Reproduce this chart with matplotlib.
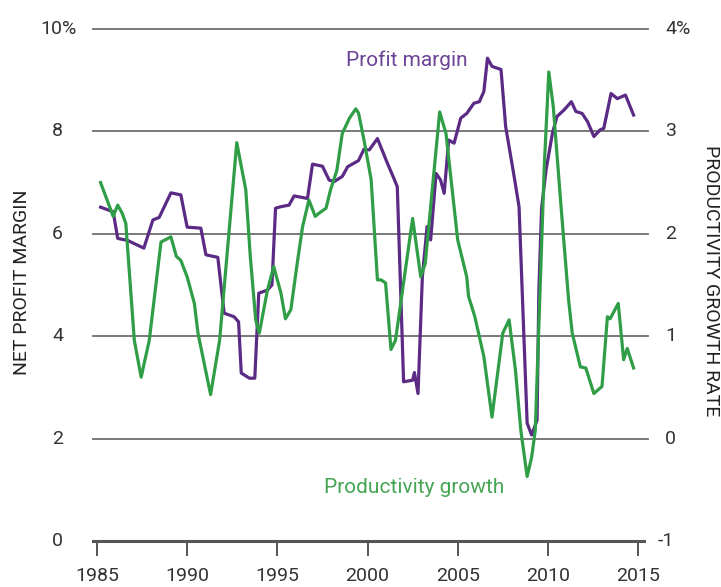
import matplotlib
matplotlib.use("Agg")
import matplotlib.pyplot as plt

plt.rcParams['font.family'] = ['Roboto', 'DejaVu Sans']

# net profit margin, % (left axis)
margin_years = [1985.2, 1985.9, 1986.15, 1986.7, 1987.6, 1988.1, 1988.45, 1989.1, 1989.65, 1990.0,
                1990.76, 1991.04, 1991.7, 1992.05, 1992.6, 1992.85, 1993.0, 1993.45, 1993.75, 1993.97,
                1994.45, 1994.7, 1994.9, 1995.2, 1995.65, 1995.93, 1996.67, 1996.95, 1997.5, 1997.87,
                1998.15, 1998.6, 1998.9, 1999.5, 1999.8, 2000.1, 2000.55, 2001.1, 2001.5, 2001.65,
                2002.0, 2002.5, 2002.6, 2002.8, 2003.04, 2003.3, 2003.5, 2003.8, 2004.05, 2004.25,
                2004.5, 2004.8, 2005.17, 2005.5, 2005.9, 2006.2, 2006.45, 2006.65, 2006.9, 2007.4,
                2007.66, 2008.1, 2008.4, 2008.85, 2009.1, 2009.4, 2009.5, 2009.65, 2009.9, 2010.25,
                2010.5, 2010.9, 2011.3, 2011.55, 2011.9, 2012.2, 2012.55, 2012.9, 2013.1, 2013.5,
                2013.85, 2014.3, 2014.75]
margin = [6.52, 6.43, 5.91, 5.87, 5.72, 6.27, 6.32, 6.80, 6.76, 6.13,
          6.11, 5.59, 5.54, 4.45, 4.38, 4.28, 3.28, 3.18, 3.18, 4.84,
          4.90, 5.00, 6.50, 6.53, 6.56, 6.74, 6.69, 7.36, 7.32, 7.05,
          7.02, 7.12, 7.31, 7.43, 7.65, 7.64, 7.86, 7.38, 7.05, 6.92,
          3.11, 3.14, 3.29, 2.88, 5.16, 6.14, 5.88, 7.18, 7.05, 6.79,
          7.83, 7.77, 8.26, 8.35, 8.55, 8.58, 8.78, 9.43, 9.27, 9.21,
          8.09, 7.18, 6.53, 2.30, 2.07, 2.36, 4.90, 6.50, 7.25, 7.96,
          8.29, 8.42, 8.58, 8.39, 8.35, 8.19, 7.90, 8.03, 8.06, 8.74,
          8.64, 8.71, 8.32]

# productivity growth rate, % (right axis)
prod_years = [1985.2, 1985.9, 1986.15, 1986.4, 1986.6, 1987.07, 1987.45, 1987.9, 1988.55, 1989.1,
              1989.4, 1989.65, 1990.0, 1990.4, 1990.6, 1991.3, 1991.8, 1992.75, 1993.25, 1993.5,
              1993.8, 1994.0, 1994.45, 1994.8, 1995.2, 1995.45, 1995.75, 1996.1, 1996.4, 1996.75,
              1997.1, 1997.3, 1997.7, 1997.95, 1998.3, 1998.6, 1999.0, 1999.35, 1999.5, 1999.8,
              2000.2, 2000.55, 2000.75, 2001.0, 2001.3, 2001.55, 2002.5, 2002.95, 2003.2, 2004.0,
              2004.35, 2005.0, 2005.5, 2005.6, 2005.95, 2006.45, 2006.9, 2007.5, 2007.85, 2008.2,
              2008.5, 2008.85, 2009.1, 2009.3, 2009.8, 2010.05, 2010.3, 2010.7, 2011.15, 2011.35,
              2011.8, 2012.1, 2012.55, 2013.0, 2013.3, 2013.45, 2013.9, 2014.2, 2014.4, 2014.75]
prod = [2.50, 2.17, 2.28, 2.20, 2.10, 0.96, 0.60, 0.96, 1.92, 1.97,
        1.78, 1.74, 1.58, 1.32, 1.03, 0.43, 0.96, 2.89, 2.43, 1.78,
        1.16, 1.03, 1.45, 1.68, 1.42, 1.17, 1.26, 1.71, 2.07, 2.33,
        2.17, 2.20, 2.25, 2.43, 2.62, 2.98, 3.13, 3.22, 3.18, 2.92,
        2.53, 1.55, 1.55, 1.52, 0.87, 0.96, 2.15, 1.58, 1.71, 3.19,
        2.98, 1.94, 1.58, 1.39, 1.19, 0.80, 0.21, 1.03, 1.16, 0.67,
        0.08, -0.37, -0.18, 0.08, 2.66, 3.58, 3.24, 2.33, 1.35, 1.03,
        0.70, 0.69, 0.44, 0.51, 1.19, 1.17, 1.32, 0.77, 0.88, 0.69]

left_ticks = [0, 2, 4, 6, 8, 10]
left_labels = ['0', '2', '4', '6', '8', '10%']
right_ticks = [-1, 0, 1, 2, 3, 4]
right_labels = ['-1', '0', '1', '2', '3', '4%']
x_ticks = [1985, 1990, 1995, 2000, 2005, 2010, 2015]

purple = '#5a2a85'
green = '#2f9e47'
grey = '#333333'

fig = plt.figure(figsize=(7.21, 5.87), dpi=100)
ax = fig.add_axes([93/721, 46/587, 555/721, 512/587])
ax2 = ax.twinx()

ax.set_xlim(1984.78, 2015.55)
ax.set_ylim(0, 10)
ax2.set_ylim(-1, 4)

for v in [2, 4, 6, 8, 10]:
    ax.axhline(v, color='#6e6e6e', lw=1.3, zorder=1, clip_on=False)

ax.plot(margin_years, margin, color=purple, lw=2.3, zorder=3, solid_joinstyle='round')
ax2.plot(prod_years, prod, color=green, lw=2.3, zorder=2, solid_joinstyle='round')

for a in (ax, ax2):
    for s in ['top', 'left', 'right']:
        a.spines[s].set_visible(False)
    a.set_yticks([])
ax2.spines['bottom'].set_visible(False)
ax.spines['bottom'].set_color('#555555')
ax.spines['bottom'].set_linewidth(2.2)
ax.spines['bottom'].set_bounds(1984.8, 2015.33)

ax.set_xticks(x_ticks)
ax.tick_params(axis='x', length=11, width=1.4, color='#555555', pad=8,
               labelsize=14, labelcolor=grey)

# y tick labels, placed like the original (digits aligned, signs hanging)
for v, lab in zip(left_ticks, left_labels):
    if lab.endswith('%'):
        ax.text(-0.0955, v, lab, transform=ax.get_yaxis_transform(), ha='left',
                va='center', fontsize=14, color=grey)
    else:
        ax.text(-0.054, v, lab, transform=ax.get_yaxis_transform(), ha='right',
                va='center', fontsize=14, color=grey)
for v, lab in zip(right_ticks, right_labels):
    x = 1.018 if lab.startswith('-') else 1.0306
    ax2.text(x, v, lab, transform=ax2.get_yaxis_transform(), ha='left',
             va='center', fontsize=14, color=grey)

fig.text(22/721, 1 - 282/587, 'NET PROFIT MARGIN', rotation=90, ha='center', va='center',
         fontsize=14, color='#222222')
fig.text(711/721, 1 - 281/587, 'PRODUCTIVITY GROWTH RATE', rotation=-90, ha='center',
         va='center', fontsize=14, color='#222222')

ax.text(2002.15, 9.39, 'Profit margin', color='#6b4496', fontsize=15, ha='center', va='center')
ax.text(2002.6, 1.05, 'Productivity growth', color='#45a553', fontsize=15, ha='center', va='center')

fig.savefig('out.png', dpi=100)
